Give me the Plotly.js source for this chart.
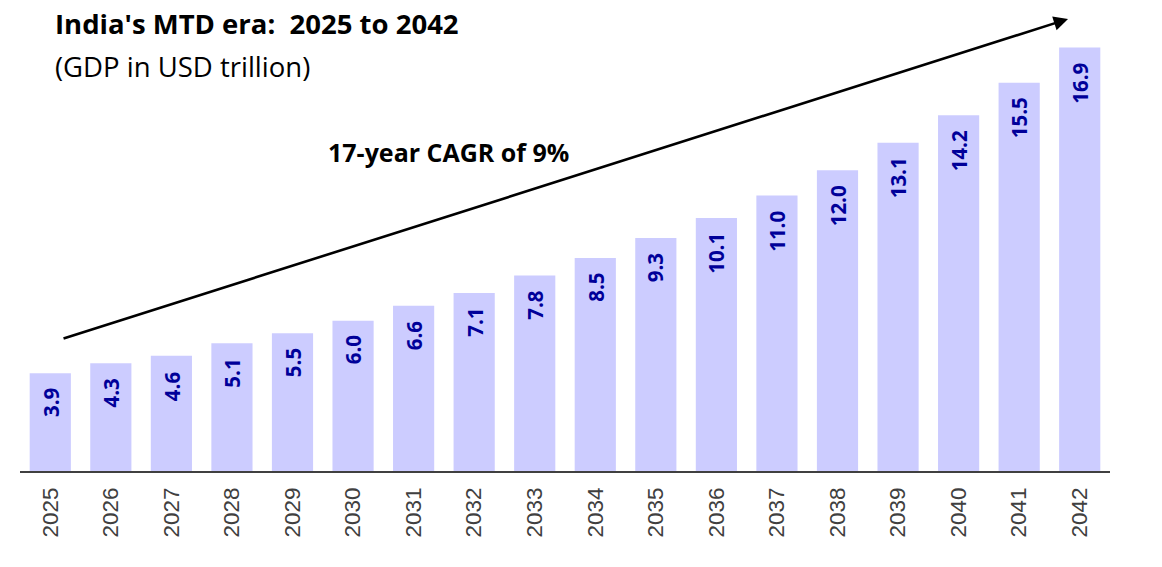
<!DOCTYPE html>
<html><head><meta charset="utf-8">
<script src="https://cdn.plot.ly/plotly-3.0.1.min.js"></script>
<style>html,body{margin:0;padding:0;background:#fff}#chart{width:1162px;height:567px}</style>
</head><body><div id="chart"></div>
<script>
const years = ["2025","2026","2027","2028","2029","2030","2031","2032","2033","2034","2035","2036","2037","2038","2039","2040","2041","2042"];
const gdp = [3.9,4.3,4.6,5.1,5.5,6.0,6.6,7.1,7.8,8.5,9.3,10.1,11.0,12.0,13.1,14.2,15.5,16.9];
const titleText = "India's MTD era:  2025 to 2042";
const subtitleText = "(GDP in USD trillion)";
const cagrText = "17-year CAGR of 9%";

const labelFont = {family: "'Open Sans', 'Noto Sans', sans-serif", size: 20.5, color: "#000099"};
const valueLabels = years.map((y, i) => ({
  x: i, y: gdp[i], xref: 'x', yref: 'y',
  text: '<b>' + gdp[i].toFixed(1) + '</b>', showarrow: false,
  textangle: -90, yanchor: 'top', xanchor: 'center', yshift: -13,
  font: labelFont
}));

const layout = {
  width: 1162, height: 567,
  margin: {l: 20, r: 52, t: 20, b: 96},
  paper_bgcolor: '#fff', plot_bgcolor: '#fff',
  showlegend: false,
  bargap: 0.32,
  xaxis: {
    type: 'category', range: [-0.5, 17.5],
    tickangle: -90, tickfont: {family: "'Liberation Sans', Arial, sans-serif", size: 22.5, color: '#404040'},
    showline: true, linecolor: '#404040', linewidth: 1.5,
    ticks: 'outside', ticklen: 6, tickcolor: 'rgba(0,0,0,0)',
    showgrid: false, zeroline: false, fixedrange: true
  },
  yaxis: {range: [0, 18], visible: false, showgrid: false, zeroline: false, fixedrange: true},
  annotations: valueLabels.concat([
    {xref: 'paper', yref: 'paper', x: 0.0303, y: 0.992, xanchor: 'left', yanchor: 'middle',
     text: '<b>' + titleText + '</b>', showarrow: false,
     font: {family: "'Open Sans', 'Noto Sans', sans-serif", size: 27.5, color: '#000'}},
    {xref: 'paper', yref: 'paper', x: 0.0303, y: 0.898, xanchor: 'left', yanchor: 'middle',
     text: subtitleText, showarrow: false,
     font: {family: "'Open Sans', 'Noto Sans', sans-serif", size: 27.5, color: '#000'}},
    {xref: 'paper', yref: 'paper', x: 0.3927, y: 0.7073, xanchor: 'center', yanchor: 'middle',
     text: '<b>' + cagrText + '</b>', showarrow: false,
     font: {family: "'Open Sans', 'Noto Sans', sans-serif", size: 25, color: '#000'}},
    {xref: 'paper', yref: 'paper', x: 0.9615, y: 1.0022, text: '', showarrow: true,
     ax: -1006, ay: 320, arrowhead: 2, arrowsize: 1.1, arrowwidth: 2.6, arrowcolor: '#000'}
  ])
};

Plotly.newPlot('chart', [{
  type: 'bar', x: years, y: gdp,
  marker: {color: '#CCCCFF', line: {width: 0}},
  hoverinfo: 'skip'
}], layout, {staticPlot: true});
</script></body></html>
